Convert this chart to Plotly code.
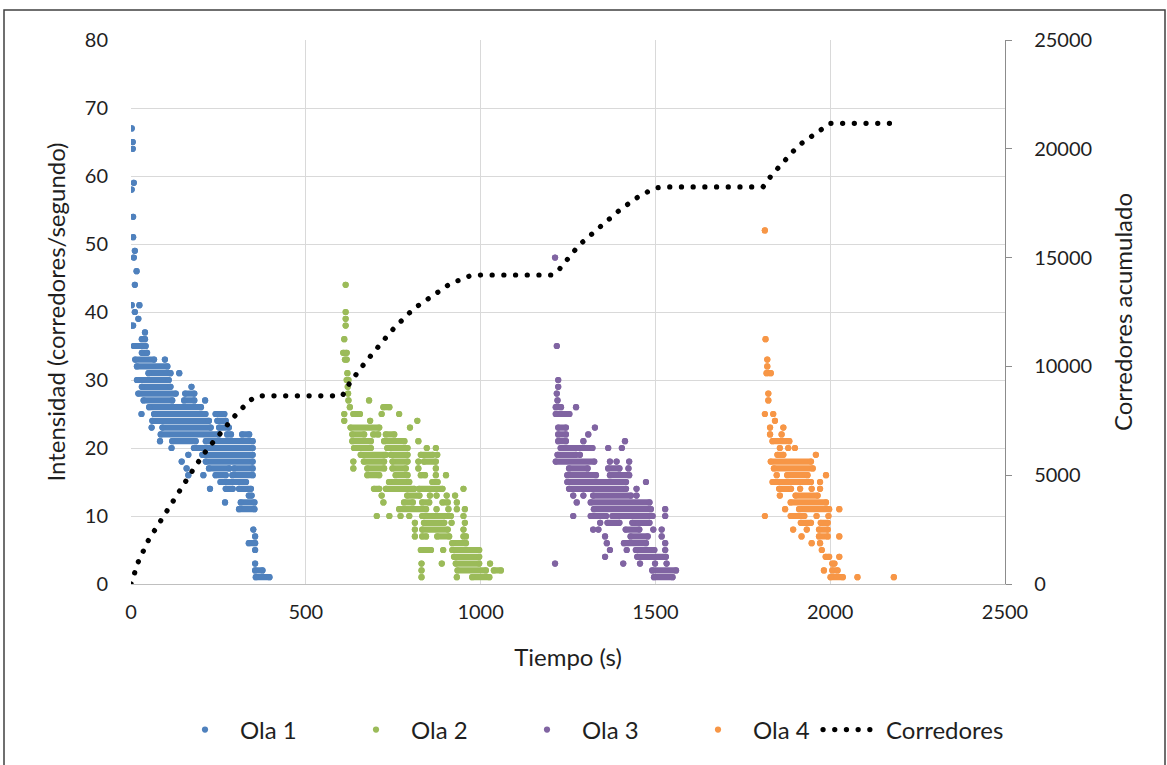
import plotly.graph_objects as go

# ---------------- data ----------------
# Each wave: horizontal runs of overlapping dots -> (intensity level, first time, last time)
ola1 = [(67,2,2),(65,5,5),(64,5,5),(59,8,8),(58,2,2),(54,6,6),(51,6,6),(49,11,11),(48,8,8),
        (46,16,16),(44,11,11),(41,2,2),(41,24,24),(40,11,11),(39,21,21),(38,0,6),(37,40,40),
        (36,31,40),(35,8,42),(34,31,46),(33,12,66),(33,97,97),(32,17,104),(31,50,113),(31,138,138),
        (30,17,108),(29,31,113),(29,173,173),(28,21,128),(28,155,181),(27,36,118),(27,152,181),
        (27,212,212),(26,52,200),(25,30,30),(25,66,213),(25,242,267),(24,61,223),(24,247,271),
        (23,59,59),(23,90,228),(23,252,280),(22,85,251),(22,275,286),(22,318,338),(21,83,83),
        (21,118,185),(21,214,348),(20,116,116),(20,180,348),(19,164,164),(19,204,348),(18,145,145),
        (18,214,348),(17,159,159),(17,223,281),(17,295,348),(16,164,164),(16,207,207),(16,242,271),
        (16,290,348),(15,256,329),(14,226,226),(14,271,291),(14,309,343),(13,337,345),(12,269,269),
        (12,314,353),(11,309,353),(8,350,350),(7,355,355),(6,337,355),(5,355,355),(3,355,355),
        (2,355,376),(1,357,396)]

ola2 = [(44,614,614),(40,614,614),(39,614,614),(38,614,614),(36,610,610),(34,607,617),(33,612,617),
        (31,619,619),(30,617,622),(29,620,620),(28,621,621),(27,622,622),(27,681,681),(26,626,626),
        (26,722,739),(25,610,610),(25,636,655),(25,717,717),(25,767,767),(24,610,610),(24,684,684),
        (24,819,819),(23,628,710),(23,798,798),(22,633,667),(22,693,707),(22,729,753),(21,633,686),
        (21,724,782),(21,822,822),(20,638,686),(20,733,791),(20,846,846),(20,872,872),(19,657,729),
        (19,743,791),(19,829,863),(19,876,876),(18,636,636),(18,666,724),(18,748,791),(18,822,822),
        (18,838,872),(17,636,636),(17,676,724),(17,748,786),(17,822,822),(17,872,872),(16,676,710),
        (16,757,791),(16,829,841),(16,872,872),(16,901,901),(15,738,796),(15,862,877),(14,695,710),
        (14,729,810),(14,824,891),(14,951,951),(13,717,717),(13,790,825),(13,855,855),(13,874,874),
        (13,903,903),(13,927,927),(12,722,722),(12,781,806),(12,833,853),(12,891,906),(12,932,932),
        (11,767,844),(11,874,874),(11,908,908),(11,932,932),(11,955,955),(10,703,703),(10,739,739),
        (10,771,771),(10,796,796),(10,833,915),(10,951,951),(9,812,812),(9,838,896),(9,917,917),
        (9,955,955),(8,812,812),(8,833,906),(8,951,951),(7,812,812),(7,833,844),(7,876,910),
        (7,951,958),(6,919,958),(5,829,858),(5,893,893),(5,919,996),(4,924,996),(3,831,831),
        (3,889,889),(3,929,996),(3,1027,1027),(2,831,831),(2,934,1015),(2,1038,1058),(1,831,831),
        (1,932,932),(1,976,1025)]

ola3 = [(48,1213,1213),(35,1218,1218),(30,1222,1222),(29,1222,1222),(28,1218,1218),(27,1220,1220),
        (26,1215,1230),(26,1273,1273),(25,1215,1254),(23,1222,1244),(23,1327,1327),(22,1222,1244),
        (22,1308,1308),(21,1222,1244),(21,1294,1294),(21,1413,1413),(20,1229,1320),(20,1365,1365),
        (20,1404,1404),(19,1220,1273),(19,1284,1284),(18,1215,1325),(18,1370,1370),(18,1389,1389),
        (18,1425,1425),(17,1253,1306),(17,1365,1397),(17,1423,1423),(16,1248,1330),(16,1370,1425),
        (15,1248,1416),(15,1473,1473),(14,1253,1416),(14,1446,1446),(13,1265,1265),(13,1294,1294),
        (13,1322,1430),(13,1446,1446),(12,1275,1275),(12,1315,1483),(11,1324,1487),(11,1528,1528),
        (10,1265,1265),(10,1315,1359),(10,1377,1492),(10,1528,1528),(9,1342,1342),(9,1363,1397),
        (9,1434,1483),(8,1322,1322),(8,1337,1337),(8,1415,1454),(8,1494,1494),(8,1518,1518),
        (7,1356,1356),(7,1429,1478),(7,1518,1518),(6,1361,1361),(6,1410,1473),(6,1528,1528),
        (5,1370,1370),(5,1418,1418),(5,1444,1497),(5,1528,1528),(4,1356,1356),(4,1448,1530),
        (3,1213,1213),(3,1408,1408),(3,1456,1456),(3,1499,1499),(3,1532,1532),(2,1491,1559),
        (1,1496,1549)]

ola4 = [(52,1813,1813),(36,1815,1815),(33,1820,1820),(32,1820,1820),(31,1818,1830),(28,1823,1823),
        (27,1823,1823),(25,1813,1813),(25,1837,1837),(24,1842,1842),(23,1828,1828),(23,1866,1866),
        (22,1828,1828),(22,1861,1861),(21,1835,1883),(20,1856,1856),(20,1880,1880),(20,1899,1899),
        (19,1849,1866),(19,1959,1959),(18,1830,1945),(17,1839,1950),(16,1847,1847),(16,1877,1935),
        (16,1988,1988),(15,1835,1945),(15,1971,1971),(14,1854,1888),(14,1914,1914),(14,1947,1947),
        (14,1971,1971),(13,1856,1856),(13,1901,1964),(12,1887,1988),(11,1871,1871),(11,1911,1997),
        (11,2026,2026),(10,1813,1813),(10,1887,1926),(10,1961,1961),(10,1995,1995),(9,1916,1945),
        (9,1973,1993),(8,1894,1894),(8,1933,1933),(8,1968,1993),(7,1918,1918),(7,1968,1993),
        (7,2026,2026),(6,1947,1947),(6,1971,1971),(5,1976,1976),(4,1987,1997),(4,2026,2026),
        (3,2006,2012),(2,1982,1982),(2,2006,2021),(1,2001,2036),(1,2078,2078),(1,2182,2182)]

# cumulative runners (right axis)
corr_t = [0, 21, 50, 83, 116, 150, 183, 218, 255, 295, 336, 355, 370, 605, 617, 634, 655, 674, 693,
          712, 733, 752, 772, 795, 817, 839, 862, 887, 912, 939, 968, 1000, 1205, 1225, 1244, 1262,
          1282, 1341, 1399, 1456, 1500, 1530, 1808, 1833, 1854, 1873, 1895, 1918, 1939, 1960, 1983,
          2000, 2186]
corr_v = [0, 1025, 2020, 2860, 3740, 4550, 5390, 6190, 6930, 7690, 8380, 8600, 8650, 8650, 9040,
          9450, 9870, 10260, 10650, 11030, 11400, 11750, 12100, 12440, 12745, 13005, 13235, 13510,
          13790, 13970, 14150, 14200, 14200, 14460, 14860, 15240, 15580, 16400, 17200, 17850, 18200,
          18250, 18250, 18800, 19180, 19560, 19900, 20250, 20480, 20760, 21020, 21170, 21170]

olas = [("Ola 1", ola1, "#4F81BD"), ("Ola 2", ola2, "#9BBB59"),
        ("Ola 3", ola3, "#8064A2"), ("Ola 4", ola4, "#F79646")]

FONT = "Lato"
TXT = "#1F1F1F"
DOT = 6.2
TITLE_SIZE = 24

fig = go.Figure()
for name, runs, color in olas:
    lx, ly, px, py = [], [], [], []
    for nivel, ini, fin in runs:
        lx += [ini, fin, None]
        ly += [nivel, nivel, None]
        px += [ini, fin]
        py += [nivel, nivel]
    fig.add_trace(go.Scatter(x=lx, y=ly, mode="lines", line=dict(color=color, width=DOT),
                             showlegend=False, hoverinfo="skip", legendgroup=name))
    fig.add_trace(go.Scatter(x=px, y=py, mode="markers", name=name, legendgroup=name,
                             marker=dict(color=color, size=DOT, line=dict(width=0))))

fig.add_trace(go.Scatter(x=corr_t, y=corr_v, yaxis="y2", mode="lines", name="Corredores",
                         legend="legend2",
                         line=dict(color="black", width=5.2, dash="0.1px,11.6px")))

PL, PR, PT, PB = 131, 1005, 40, 584
W, H = 1167, 765
px2x = lambda p: (p - PL) / (PR - PL)
py2y = lambda p: (PB - p) / (PB - PT)

fig.update_layout(
    width=W, height=H, autosize=False,
    margin=dict(l=PL, r=W - PR, t=PT, b=H - PB),
    paper_bgcolor="white", plot_bgcolor="white",
    font=dict(family=FONT, size=20, color=TXT),
    xaxis=dict(range=[0, 2500], dtick=500, tick0=0, showgrid=True, gridcolor="#D9D9D9",
               gridwidth=1.3, zeroline=False, showline=True, linecolor="#BFBFBF", linewidth=1.3,
               ticks="", ticklabelstandoff=10,
               title=dict(text="Tiempo (s)", standoff=27, font=dict(size=TITLE_SIZE))),
    yaxis=dict(range=[0, 80], dtick=10, tick0=0, showgrid=True, gridcolor="#D9D9D9",
               gridwidth=1.3, zeroline=False, showline=False, ticks="", ticklabelstandoff=22,
               title=dict(text="Intensidad (corredores/segundo)", standoff=12,
                          font=dict(size=TITLE_SIZE))),
    yaxis2=dict(range=[0, 25000], dtick=5000, tick0=0, overlaying="y", side="right",
                tickformat="d", showgrid=False, zeroline=False, showline=True,
                linecolor="#8C8C8C", linewidth=1.3,
                ticks="outside", ticklen=6, tickcolor="#8C8C8C", ticklabelstandoff=18,
                title=dict(text="Corredores acumulado", standoff=24, font=dict(size=TITLE_SIZE))),
    legend=dict(orientation="h", x=px2x(170), xanchor="left",
                y=py2y(730), yanchor="middle",
                entrywidth=96, itemwidth=60, font=dict(size=TITLE_SIZE), bgcolor="rgba(0,0,0,0)"),
    legend2=dict(orientation="h", x=px2x(818), xanchor="left",
                 y=py2y(730), yanchor="middle",
                 itemwidth=58, font=dict(size=TITLE_SIZE), bgcolor="rgba(0,0,0,0)"),
    showlegend=True,
    shapes=[dict(type="rect", xref="paper", yref="paper",
                 x0=px2x(4), x1=px2x(1165), y0=py2y(800), y1=py2y(10),
                 line=dict(color="#404040", width=1.5), fillcolor="rgba(0,0,0,0)", layer="below")],
)

post = ("var s=document.createElement('style');"
        "s.textContent='html,body{margin:0;padding:0;} .js-line{stroke-linecap:round !important;}';"
        "document.head.appendChild(s);")

fig.write_html("out.html", post_script=post, config={"displayModeBar": False})
